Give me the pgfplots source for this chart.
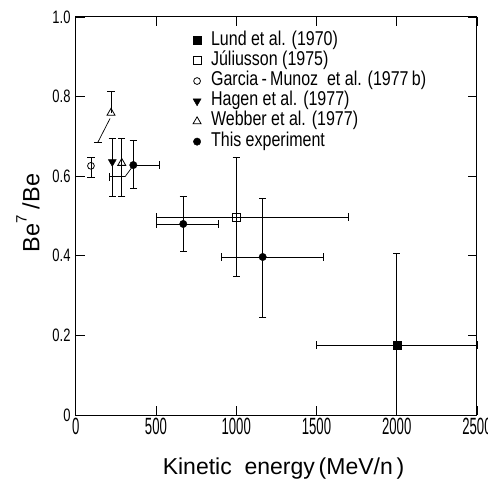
\documentclass[border=0pt]{standalone}
\usepackage{fontspec}
\setmainfont{Liberation Sans}
\newfontfamily\condA[FakeStretch=0.56]{Liberation Sans}
\newfontfamily\condB[FakeStretch=0.72]{Liberation Sans}
\newfontfamily\condC[FakeStretch=0.8]{Liberation Sans}
\usepackage{pgfplots}
\pgfplotsset{compat=1.18}

\begin{document}
\begin{tikzpicture}
\useasboundingbox (-75.7pt,-65pt) rectangle (412.3pt,415pt);
\begin{axis}[
  scale only axis, width=401.3pt, height=398pt,
  xmin=0, xmax=2500, ymin=0, ymax=1,
  xtick={0,500,1000,1500,2000,2500},
  xticklabels={0,500,1000,1500,2000,2500},
  ytick={0,0.2,0.4,0.6,0.8,1.0},
  yticklabels={0,0.2,0.4,0.6,0.8,1.0},
  tick align=inside, xtick pos=both, ytick pos=both,
  major tick length=9pt,
  tick style={line width=0.8pt, black},
  axis line style={line width=1pt},
  xticklabel style={font=\condA\fontsize{23.5}{23.5}\selectfont, inner sep=0pt, yshift=-3pt},
  yticklabel style={font=\condB\fontsize{18}{18}\selectfont, inner sep=0pt, xshift=-5pt},
  every axis x label/.style={at={(rel axis cs:0.518,-0.150)}, anchor=base},
  every axis y label/.style={at={(rel axis cs:-0.119,0.507)}, rotate=90, anchor=center},
  xlabel={\fontsize{23}{23}\selectfont Kinetic\ \ energy\,(MeV/n\,)},
  ylabel={\fontsize{23.5}{23.5}\selectfont Be\raisebox{0.55em}{\fontsize{15}{15}\selectfont 7}\ /Be},
  clip=false,
  error bars/error bar style={line width=0.7pt, black},
  error bars/error mark options={rotate=90, mark size=3.7pt, line width=0.7pt, black},
  legend style={draw=none, fill=none, inner sep=0pt,
    at={(rel axis cs:0.292,0.965)}, anchor=north west,
    row sep=1.2pt,
    /tikz/every odd column/.append style={column sep=10pt},
    nodes={inner sep=0pt, text height=14pt, text depth=5pt,
      font=\condC\fontsize{20}{20}\selectfont}},
  legend cell align=left,
  legend image code/.code={\draw[#1] plot coordinates {(4pt,0pt)};},
]
% Lund et al. (1970)
\addplot[only marks, mark=square*, mark size=4pt, black,
  error bars/.cd, x dir=both, y dir=both, x explicit, y explicit]
  coordinates {(2000,0.176) += (500,0.231) -= (500,0.176)};
% Juliusson (1975)
\addplot[only marks, mark=square, mark size=4pt, black, mark options={fill=white, line width=0.8pt},
  error bars/.cd, x dir=both, y dir=both, x explicit, y explicit]
  coordinates {(1000,0.497) += (700,0.151) -= (500,0.148)};
% Garcia-Munoz et al. (1977b)
\addplot[only marks, mark=o, mark size=3.4pt, black, mark options={fill=white, line width=0.8pt},
  error bars/.cd, y dir=both, y explicit]
  coordinates {(95,0.626) += (0,0.022) -= (0,0.028)};
% Hagen et al. (1977)
\addplot[only marks, mark=triangle*, mark size=4.6pt, black, mark options={rotate=180},
  error bars/.cd, y dir=both, y explicit]
  coordinates {(228,0.636) += (0,0.060) -= (0,0.086)};
% Webber et al. (1977)
\addplot[only marks, mark=triangle, mark size=4.6pt, black, mark options={fill=white, line width=0.8pt},
  error bars/.cd, y dir=both, y explicit]
  coordinates {(287,0.633) += (0,0.063) -= (0,0.083)};
% This experiment
\addplot[only marks, mark=*, mark size=3.7pt, black,
  error bars/.cd, x dir=both, y dir=both, x explicit, y explicit]
  coordinates {(670,0.480) += (220,0.070) -= (165,0.070)
               (1165,0.397) += (378,0.148) -= (258,0.151)};
\addlegendentry{Lund et al. (1970)}
\addlegendentry{Júliusson (1975)}
\addlegendentry{Garcia\,-\,Munoz\ \ et al. (1977\,b)}
\addlegendentry{Hagen et al. (1977)}
\addlegendentry{Webber et al. (1977)}
\addlegendentry{This experiment}

% Webber upper point and its pointer
\addplot[black, line width=0.7pt, forget plot] coordinates {(139,0.686) (214,0.745)};
\addplot[black, line width=0.7pt, forget plot] coordinates {(114,0.686) (164,0.686)};
\addplot[only marks, mark=triangle, mark size=4.6pt, black, mark options={fill=white, line width=0.8pt}, forget plot,
  error bars/.cd, y dir=plus, y explicit]
  coordinates {(220,0.759) += (0,0.055) -= (0,0)};
% energy bracket of the lowest point of this experiment
\addplot[black, line width=0.7pt, forget plot] coordinates {(209,0.599) (308,0.599) (350,0.622)};
\addplot[black, line width=0.7pt, forget plot] coordinates {(209,0.589) (209,0.609)};
\addplot[only marks, mark=*, mark size=3.7pt, black, forget plot,
  error bars/.cd, x dir=plus, y dir=both, x explicit, y explicit]
  coordinates {(359,0.628) += (161,0.063) -= (0,0.058)};
\end{axis}
\end{tikzpicture}
\end{document}
